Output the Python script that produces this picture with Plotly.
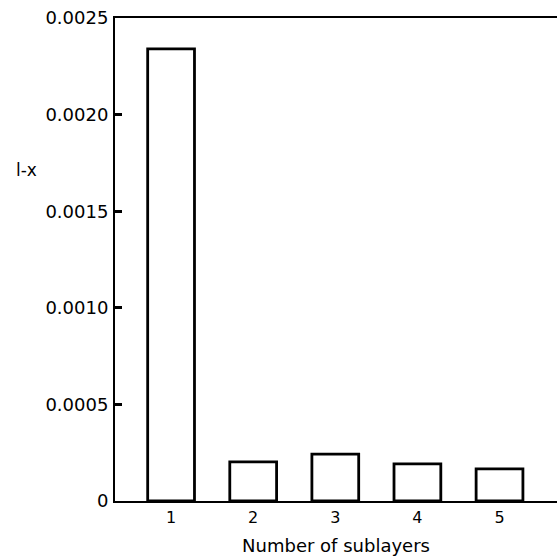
import plotly.graph_objects as go

sublayers = [1, 2, 3, 4, 5]
values = [0.00234, 0.000202, 0.000243, 0.000192, 0.000166]
y_tickvals = [0, 0.0005, 0.0010, 0.0015, 0.0020, 0.0025]
y_ticktext = ["0", "0.0005", "0.0010", "0.0015", "0.0020", "0.0025"]
x_ticktext = ["1", "2", "3", "4", "5"]

font = "DejaVu Sans"

fig = go.Figure(go.Bar(
    x=sublayers, y=values, width=0.57,
    marker=dict(color="white", line=dict(color="black", width=2.8)),
))

fig.update_layout(
    width=557, height=558,
    margin=dict(l=115, r=0, t=18, b=57),
    plot_bgcolor="white", paper_bgcolor="white",
    showlegend=False,
    font=dict(family=font, color="black", size=17),
    xaxis=dict(
        range=[0.317, 5.7], tickvals=sublayers, ticktext=x_ticktext,
        showline=True, linecolor="black", linewidth=2, mirror=True,
        showgrid=False, zeroline=False, ticks="", ticklabelstandoff=1,
        tickfont=dict(size=16),
        title=dict(text="Number of sublayers", font=dict(size=18), standoff=13),
    ),
    yaxis=dict(
        range=[0, 0.0025], tickvals=y_tickvals, ticktext=y_ticktext,
        showline=True, linecolor="black", linewidth=2,
        showgrid=False, zeroline=False, ticks="inside", ticklen=7,
        tickwidth=2.5, tickcolor="black", ticklabelstandoff=1,
        tickfont=dict(size=18),
    ),
    annotations=[dict(
        text="l-x", xref="paper", yref="paper", x=-0.2, y=0.686,
        xanchor="center", yanchor="middle", showarrow=False,
        font=dict(size=17, family=font),
    )],
)

fig.write_html("out.html", config={"displayModeBar": False},
               post_script="document.body.style.margin='0';")
